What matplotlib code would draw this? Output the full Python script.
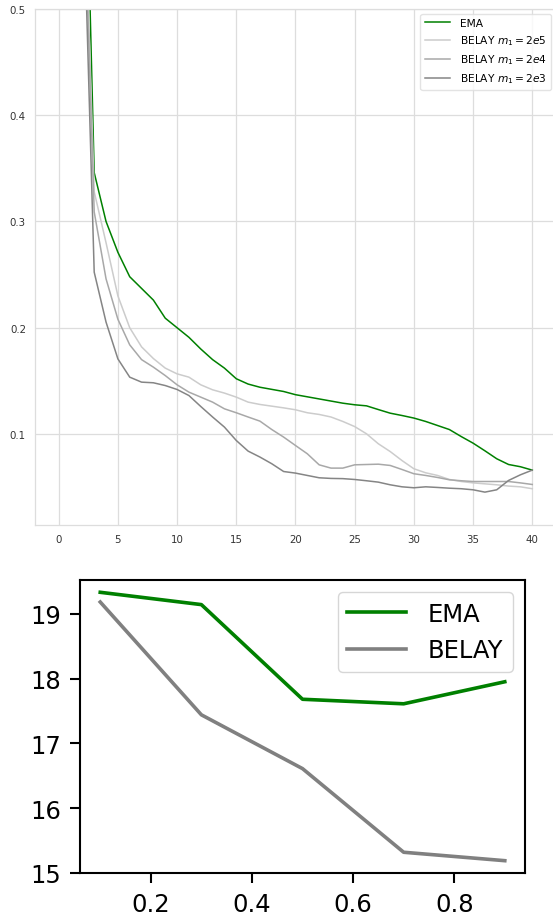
import numpy
import matplotlib
matplotlib.use('Agg')
import matplotlib.pyplot as plt

# curves of the upper panel (x = 0..40)
steps = list(range(41))
ema = [2.5, 1.5, 0.79, 0.346, 0.300, 0.271, 0.248, 0.237, 0.226, 0.209,
       0.200, 0.191, 0.180, 0.170, 0.162, 0.152, 0.147, 0.144, 0.142, 0.140,
       0.137, 0.135, 0.133, 0.131, 0.129, 0.1275, 0.1265, 0.123, 0.1196, 0.1174,
       0.115, 0.1118, 0.108, 0.1042, 0.0976, 0.0914, 0.0842, 0.0767, 0.0713, 0.0692,
       0.066]
belay_2e5 = [2.4, 1.4, 0.68, 0.328, 0.280, 0.230, 0.200, 0.182, 0.171, 0.162,
             0.1566, 0.1535, 0.1463, 0.1416, 0.1385, 0.1347, 0.130, 0.1278, 0.1262, 0.1246,
             0.1228, 0.120, 0.1184, 0.116, 0.1118, 0.107, 0.1002, 0.0908, 0.0835, 0.075,
             0.0673, 0.0635, 0.061, 0.0572, 0.0553, 0.054, 0.0531, 0.0522, 0.051, 0.0503,
             0.0485]
belay_2e4 = [2.3, 1.3, 0.66, 0.309, 0.246, 0.208, 0.1839, 0.170, 0.1629, 0.155,
             0.1463, 0.1394, 0.1347, 0.130, 0.1237, 0.120, 0.116, 0.1121, 0.1042, 0.0971,
             0.0892, 0.0814, 0.071, 0.0679, 0.0679, 0.071, 0.0713, 0.0716, 0.0704, 0.0666,
             0.0626, 0.061, 0.0591, 0.0569, 0.056, 0.0553, 0.0553, 0.0553, 0.0553, 0.054,
             0.0525]
belay_2e3 = [2.2, 1.2, 0.64, 0.2523, 0.2053, 0.1707, 0.1535, 0.1488, 0.1482, 0.1456,
             0.1419, 0.1362, 0.1259, 0.116, 0.1065, 0.0939, 0.0839, 0.0783, 0.072, 0.0647,
             0.0632, 0.061, 0.0588, 0.0582, 0.058, 0.0572, 0.056, 0.0547, 0.0522, 0.0503,
             0.0494, 0.0503, 0.0497, 0.049, 0.0485, 0.0475, 0.0453, 0.0475, 0.0563, 0.0616,
             0.066]

# lower panel
ratios = [0.1, 0.3, 0.5, 0.7, 0.9]
ema_final = [19.33, 19.14, 17.68, 17.61, 17.95]
belay_final = [19.18, 17.44, 16.61, 15.32, 15.19]

fig = plt.figure(figsize=(5.53, 9.20), dpi=100)

# ---- upper panel, seaborn whitegrid look ----
ax1 = fig.add_axes([0.0633, 0.4283, 0.942, 0.5609])
ax1.plot(steps, ema, color='green', lw=1.1, label='EMA')
ax1.plot(steps, belay_2e5, color='#cccccc', lw=1.1, label=r'BELAY $m_1 = 2e5$')
ax1.plot(steps, belay_2e4, color='#a8a8a8', lw=1.1, label=r'BELAY $m_1 = 2e4$')
ax1.plot(steps, belay_2e3, color='#858585', lw=1.1, label=r'BELAY $m_1 = 2e3$')
ax1.set_xlim(-2, 42)
ax1.set_ylim(0.0144, 0.5)
ax1.set_xticks([0, 5, 10, 15, 20, 25, 30, 35, 40])
ax1.set_yticks([0.1, 0.2, 0.3, 0.4, 0.5])
ax1.grid(True, color='#dddddd', lw=0.9)
ax1.set_axisbelow(True)
for s in ax1.spines.values():
    s.set_color('#dddddd')
    s.set_linewidth(0.9)
ax1.tick_params(length=0, labelsize=7.4, colors='#333333', pad=6.5)
leg1 = ax1.legend(loc='upper right', fontsize=7.7, handlelength=2.4,
                  handletextpad=0.9, borderaxespad=0.45, framealpha=0.8)
leg1.get_frame().set_edgecolor('#dddddd')

# ---- lower panel, plain matplotlib look ----
ax2 = fig.add_axes([0.1447, 0.05, 0.8047, 0.3185])
ax2.plot(ratios, ema_final, color='green', lw=2.6, label='EMA')
ax2.plot(ratios, belay_final, color='gray', lw=2.6, label='BELAY')
ax2.set_ylim(15.0, 19.52)
ax2.set_xticks([0.2, 0.4, 0.6, 0.8])
ax2.set_yticks([15, 16, 17, 18, 19])
for s in ax2.spines.values():
    s.set_linewidth(1.5)
ax2.tick_params(length=7, width=1.5, labelsize=17.5, pad=6.5)
ax2.legend(loc='upper right', fontsize=17.5, handlelength=2.4,
           handletextpad=0.9, borderaxespad=0.5)

fig.savefig('out.png', dpi=100)
